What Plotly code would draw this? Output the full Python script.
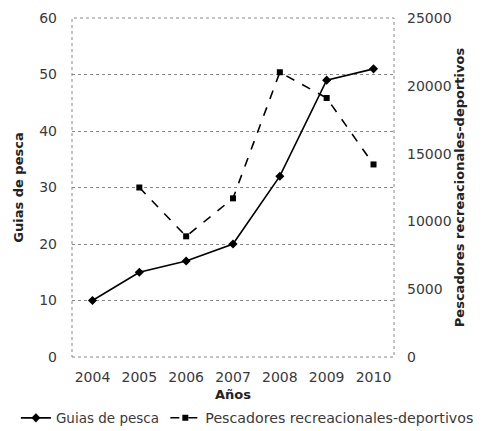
import plotly.graph_objects as go

years = ["2004", "2005", "2006", "2007", "2008", "2009", "2010"]
guias = [10, 15, 17, 20, 32, 49, 51]
pesc_years = ["2005", "2006", "2007", "2008", "2009", "2010"]
pescadores = [12500, 8900, 11700, 21000, 19100, 14200]

font_fam = "DejaVu Sans, sans-serif"
tick_col = "#3a3a3a"

fig = go.Figure()
fig.add_trace(go.Scatter(
    x=years, y=guias, name="Guias de pesca", mode="lines+markers",
    line=dict(color="black", width=1.6),
    marker=dict(symbol="diamond", size=7, color="black"),
    legend="legend",
))
fig.add_trace(go.Scatter(
    x=pesc_years, y=pescadores, name="Pescadores recreacionales-deportivos",
    mode="lines+markers", yaxis="y2",
    line=dict(color="black", width=1.6, dash="dash"),
    marker=dict(symbol="square", size=6, color="black"),
    legend="legend2",
))

leg_common = dict(orientation="h", xref="container", yref="container",
                  y=0.03, yanchor="middle", xanchor="left",
                  itemwidth=30, bgcolor="rgba(0,0,0,0)", borderwidth=0)

fig.update_layout(
    width=482, height=431,
    margin=dict(l=72, r=88, t=18, b=74),
    paper_bgcolor="white", plot_bgcolor="white",
    font=dict(family=font_fam, size=14, color=tick_col),
    showlegend=True,
    legend=dict(leg_common, x=0.033, font=dict(size=13.5, color=tick_col, family=font_fam)),
    legend2=dict(leg_common, x=0.343, font=dict(size=14.2, color=tick_col, family=font_fam)),
    xaxis=dict(
        type="category", categoryorder="array", categoryarray=years,
        showgrid=False, showline=False, zeroline=False, automargin=False,
        ticks="", ticklabelstandoff=10, tickfont=dict(size=14, color=tick_col),
        title=dict(text="<b>Años</b>", font=dict(size=13, color="#222"), standoff=10),
    ),
    yaxis=dict(
        range=[0, 60], dtick=10, showgrid=True, griddash="dot", gridcolor="#888",
        showline=False, zeroline=False, automargin=False,
        ticks="", ticklabelstandoff=14, tickfont=dict(size=14, color=tick_col),
        title=dict(text="<b>Guias de pesca</b>", font=dict(size=13, color="#222"), standoff=12),
    ),
    yaxis2=dict(
        range=[0, 25000], dtick=5000, tickformat="d", overlaying="y", side="right",
        showgrid=False, showline=False, zeroline=False, automargin=False,
        ticks="", ticklabelstandoff=12,
        tickfont=dict(size=14, color=tick_col),
        title=dict(text="<b>Pescadores recreacionales-deportivos</b>",
                   font=dict(size=13, color="#222"), standoff=4),
    ),
    shapes=[dict(type="rect", xref="paper", yref="paper", x0=0, x1=1, y0=0, y1=1,
                 line=dict(color="#888", width=1, dash="dot"), layer="below")],
)

fig.write_html("out.html", post_script="document.body.style.margin='0';",
               config={"displayModeBar": False})
